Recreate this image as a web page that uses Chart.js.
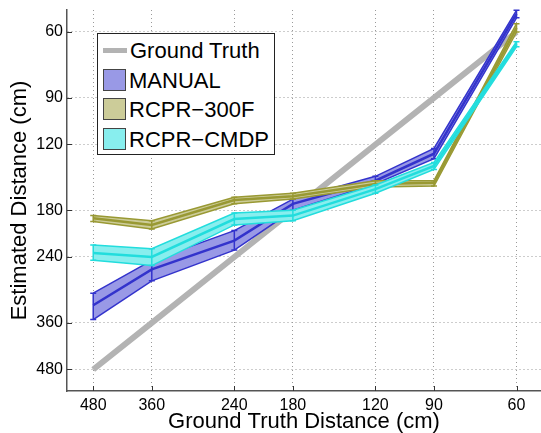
<!DOCTYPE html>
<html lang="en">
<head>
    <meta charset="UTF-8">
    <title>Estimated vs Ground Truth Distance</title>
    <style>
        body {
            margin: 0;
            padding: 0;
            background: #ffffff;
            font-family: "Liberation Sans", Arial, sans-serif;
        }

        #wrap {
            position: relative;
            width: 541px;
            height: 433px;
        }

        #legend {
            position: absolute;
            left: 97px;
            top: 33px;
            width: 176px;
            height: 120px;
            border: 1px solid #222;
            background: #fff;
            font-size: 22px;
            color: #000;
        }

        .item {
            position: absolute;
            left: 5px;
            height: 24px;
            line-height: 24px;
            white-space: nowrap;
        }

        .swatch {
            display: inline-block;
            width: 23px;
            height: 22px;
            border: 1px solid #444;
            vertical-align: top;
            margin-right: 3px;
            box-sizing: border-box;
        }

        .gt {
            display: inline-block;
            width: 24px;
            height: 5px;
            background: #b3b3b3;
            vertical-align: middle;
            margin-right: 3px;
            margin-top: -3px;
        }
    </style>
</head>
<body>
<div id="wrap">
    <canvas id="chart" width="541" height="433"></canvas>
    <div id="legend"></div>
</div>

<script src="https://cdn.jsdelivr.net/npm/chart.js"></script>
<script>
    // ground truth distances (cm), x axis runs 480 -> 60
    var distances = [480, 360, 240, 180, 120, 90, 60];
    var tickValues = [60, 90, 120, 180, 240, 360, 480];

    // estimated distance: mean and band edges
    var manualMean = [323, 259, 217, 173, 150, 127, 53.7];
    var manualLow = [300, 245, 204, 168, 146, 123, 52.5];
    var manualHigh = [353, 278, 230, 180, 153, 131, 55];

    var rcpr300Mean = [189, 197, 169, 165, 153, 152, 58.5];
    var rcpr300Low = [186, 192, 166, 162, 150, 150, 57];
    var rcpr300High = [193, 202, 173, 168, 156, 155, 60];

    var cmdpMean = [234, 240, 190, 186, 158, 137, 64.6];
    var cmdpLow = [223, 228, 183, 180, 154, 134, 63.7];
    var cmdpHigh = [245, 253, 197, 192, 162, 140, 65.7];

    var series = [
        {label: 'MANUAL', mean: manualMean, low: manualLow, high: manualHigh, line: 'rgb(51,51,204)', fill: 'rgb(153,153,230)', order: 30},
        {label: 'RCPR\u2212300F', mean: rcpr300Mean, low: rcpr300Low, high: rcpr300High, line: 'rgb(153,153,51)', fill: 'rgb(204,204,153)', order: 20},
        {label: 'RCPR\u2212CMDP', mean: cmdpMean, low: cmdpLow, high: cmdpHigh, line: 'rgb(34,221,221)', fill: 'rgb(136,238,238)', order: 10}
    ];

    function pts(vals) {
        return distances.map(function (d, i) { return {x: d, y: vals[i]}; });
    }

    var datasets = [{
        label: 'Ground Truth',
        data: pts(distances),
        borderColor: 'rgb(179,179,179)',
        borderWidth: 6,
        pointRadius: 0,
        fill: false,
        order: 100
    }];

    series.forEach(function (s) {
        datasets.push({
            data: pts(s.high),
            borderColor: s.line,
            backgroundColor: s.fill,
            borderWidth: 1.5,
            pointRadius: 0,
            fill: '+1',
            order: s.order + 3
        });
        datasets.push({
            data: pts(s.low),
            borderColor: s.line,
            borderWidth: 1.5,
            pointRadius: 0,
            fill: false,
            order: s.order + 2
        });
        datasets.push({
            label: s.label,
            data: pts(s.mean),
            borderColor: s.line,
            borderWidth: 2.5,
            pointRadius: 0,
            fill: false,
            order: s.order + 1,
            errLow: s.low,
            errHigh: s.high
        });
    });

    // vertical error bars with caps, drawn right after each mean line
    var errorBars = {
        id: 'errorBars',
        afterDatasetDraw: function (chart, args) {
            var ds = chart.data.datasets[args.index];
            if (!ds.errLow) return;
            var xs = chart.scales.x, ys = chart.scales.y, ctx = chart.ctx;
            ctx.save();
            ctx.strokeStyle = ds.borderColor;
            ctx.lineWidth = 1.5;
            distances.forEach(function (d, i) {
                var px = xs.getPixelForValue(d);
                var y1 = ys.getPixelForValue(ds.errLow[i]);
                var y2 = ys.getPixelForValue(ds.errHigh[i]);
                ctx.beginPath();
                ctx.moveTo(px, y1); ctx.lineTo(px, y2);
                ctx.moveTo(px - 3, y1); ctx.lineTo(px + 3, y1);
                ctx.moveTo(px - 3, y2); ctx.lineTo(px + 3, y2);
                ctx.stroke();
            });
            ctx.restore();
        }
    };

    // matlab style ticks pointing into the plot
    var innerTicks = {
        id: 'innerTicks',
        afterDraw: function (chart) {
            var a = chart.chartArea, ctx = chart.ctx;
            ctx.save();
            ctx.strokeStyle = '#333';
            ctx.lineWidth = 1;
            ctx.beginPath();
            tickValues.forEach(function (v) {
                var px = Math.round(chart.scales.x.getPixelForValue(v)) + 0.5;
                ctx.moveTo(px, a.bottom); ctx.lineTo(px, a.bottom - 5);
                var py = Math.round(chart.scales.y.getPixelForValue(v)) + 0.5;
                ctx.moveTo(a.left, py); ctx.lineTo(a.left + 5, py);
            });
            ctx.stroke();
            ctx.restore();
        }
    };

    function setTicks(scale) {
        scale.ticks = tickValues.map(function (v) { return {value: v}; });
    }

    var tickFont = {family: '"Liberation Sans", Arial, sans-serif', size: 16};
    var titleFont = {family: '"Liberation Sans", Arial, sans-serif', size: 22, lineHeight: 1.05};

    var ctx = document.getElementById('chart').getContext('2d');
    new Chart(ctx, {
        type: 'line',
        data: {datasets: datasets},
        plugins: [errorBars, innerTicks],
        options: {
            responsive: false,
            animation: false,
            layout: {padding: {top: 10, right: 0, left: 0, bottom: 0}},
            elements: {line: {tension: 0}},
            plugins: {
                legend: {display: false},
                tooltip: {enabled: false}
            },
            scales: {
                x: {
                    type: 'logarithmic',
                    reverse: true,
                    min: 53.2,
                    max: 546,
                    afterBuildTicks: setTicks,
                    afterFit: function (s) {
                        s.height = 42;
                        s.paddingLeft = 0;
                        s.paddingRight = 0;
                    },
                    ticks: {
                        autoSkip: false,
                        maxRotation: 0,
                        padding: 5,
                        color: '#000',
                        font: tickFont,
                        callback: function (v) { return String(v); }
                    },
                    grid: {color: '#9a9a9a', lineWidth: 1, drawTicks: false},
                    border: {color: '#555', width: 1.5, dash: [1, 3]},
                    title: {
                        display: true,
                        text: 'Ground Truth Distance (cm)',
                        color: '#000',
                        font: titleFont,
                        padding: {top: 0, bottom: 0}
                    }
                },
                y: {
                    type: 'logarithmic',
                    reverse: true,
                    min: 52.4,
                    max: 548,
                    afterBuildTicks: setTicks,
                    afterFit: function (s) {
                        s.width = 67;
                        s.paddingTop = 0;
                        s.paddingBottom = 0;
                    },
                    ticks: {
                        autoSkip: false,
                        padding: 4,
                        color: '#000',
                        font: tickFont,
                        callback: function (v) { return String(v); }
                    },
                    grid: {color: '#9a9a9a', lineWidth: 1, drawTicks: false},
                    border: {color: '#555', width: 1.5, dash: [1, 3]},
                    title: {
                        display: true,
                        text: 'Estimated Distance (cm)',
                        color: '#000',
                        font: {family: '"Liberation Sans", Arial, sans-serif', size: 22},
                        padding: {top: 7, bottom: 0}
                    }
                }
            }
        }
    });

    // legend box (top-left inside the axes)
    var legend = document.getElementById('legend');
    var rows = [{label: 'Ground Truth', gt: true}].concat(series);
    rows.forEach(function (r, i) {
        var el = document.createElement('div');
        el.className = 'item';
        el.style.top = (5 + i * 29.5) + 'px';
        var mark = document.createElement('span');
        if (r.gt) {
            mark.className = 'gt';
        } else {
            mark.className = 'swatch';
            mark.style.background = r.fill;
        }
        el.appendChild(mark);
        el.appendChild(document.createTextNode(r.label));
        legend.appendChild(el);
    });
</script>
</body>
</html>
